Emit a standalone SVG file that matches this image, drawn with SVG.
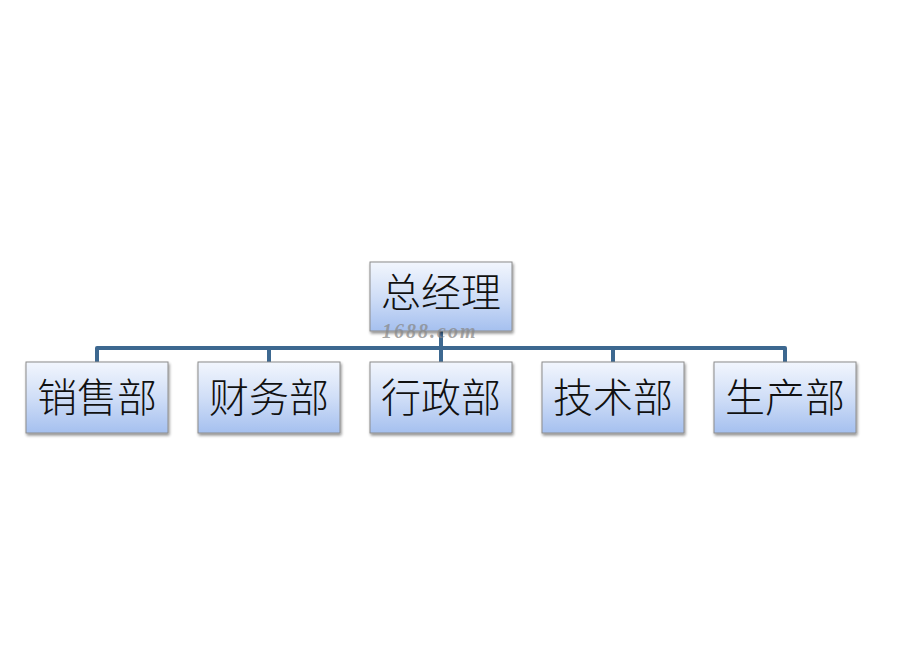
<svg xmlns="http://www.w3.org/2000/svg" width="898" height="651" viewBox="0 0 898 651">
<defs>
<linearGradient id="g" x1="0" y1="0" x2="0" y2="1">
<stop offset="0" stop-color="#f2f6fd"/>
<stop offset="0.5" stop-color="#d0def7"/>
<stop offset="1" stop-color="#a5c0ef"/>
</linearGradient>
<filter id="sh" x="-10%" y="-10%" width="125%" height="130%">
<feGaussianBlur in="SourceAlpha" stdDeviation="1.5"/>
<feOffset dx="1" dy="2"/>
<feComponentTransfer><feFuncA type="linear" slope="0.45"/></feComponentTransfer>
<feMerge><feMergeNode/><feMergeNode in="SourceGraphic"/></feMerge>
</filter>
<style>
.box{fill:url(#g);stroke:#8c8c8c;stroke-width:1;filter:url(#sh)}
.lbl{font-family:"Noto Sans CJK SC",sans-serif;font-weight:300;font-size:40px;fill:#111;text-anchor:middle}
.con{fill:none;stroke:#3d6890;stroke-width:4;stroke-linejoin:round}
.wm{font-family:"Liberation Serif",serif;font-style:italic;font-weight:bold;font-size:20px;fill:#8a8a8a;fill-opacity:0.75;letter-spacing:2px}
</style>
</defs>
<rect width="898" height="651" fill="#ffffff"/>
<g id="connectors">
<path class="con" d="M441 331 V348"/>
<path class="con" d="M97 362 V348 H785 V362"/>
<path class="con" d="M269 348 V362 M441 348 V362 M613 348 V362"/>
</g>
<g id="n0"><rect class="box" x="370" y="262" width="142" height="69"/><text class="lbl" x="441" y="307">总经理</text></g>
<g id="n1"><rect class="box" x="26" y="362" width="142" height="71"/><text class="lbl" x="97" y="412">销售部</text></g>
<g id="n2"><rect class="box" x="198" y="362" width="142" height="71"/><text class="lbl" x="269" y="412">财务部</text></g>
<g id="n3"><rect class="box" x="370" y="362" width="142" height="71"/><text class="lbl" x="441" y="412">行政部</text></g>
<g id="n4"><rect class="box" x="542" y="362" width="142" height="71"/><text class="lbl" x="613" y="412">技术部</text></g>
<g id="n5"><rect class="box" x="714" y="362" width="142" height="71"/><text class="lbl" x="785" y="412">生产部</text></g>
<text class="wm" x="382" y="338">1688.com</text>
</svg>
